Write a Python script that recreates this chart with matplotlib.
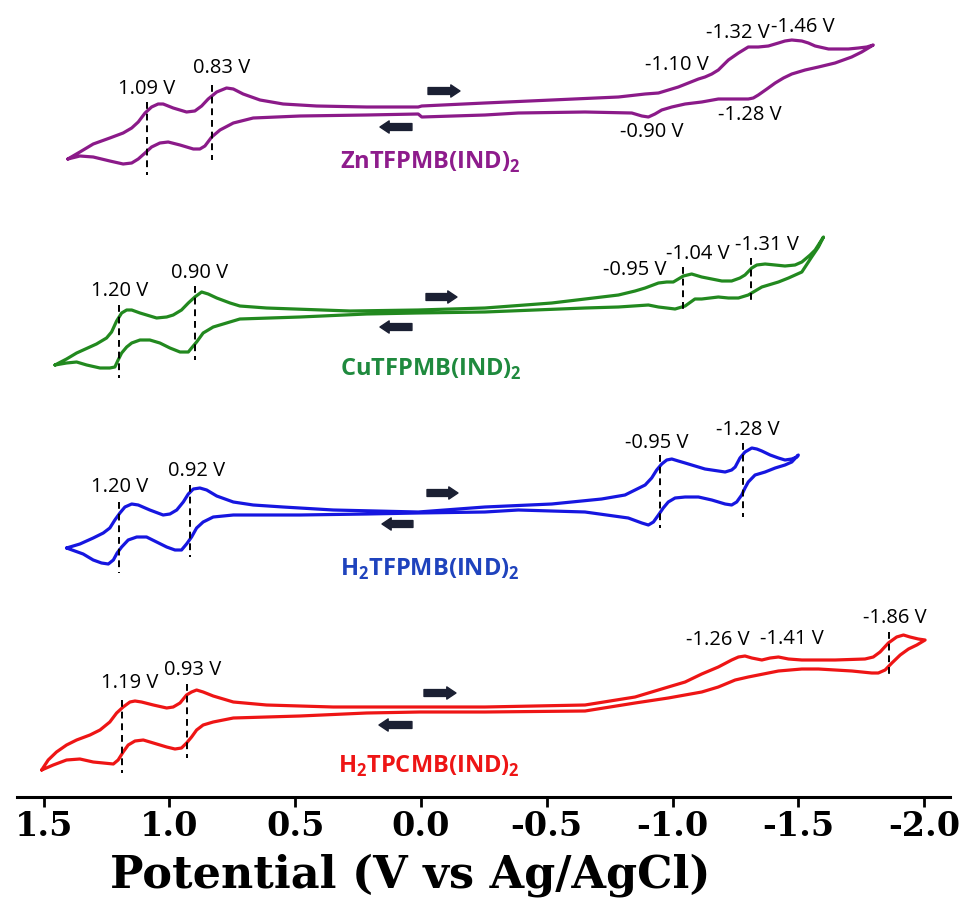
import matplotlib.pyplot as plt
import numpy as np

plt.rcParams['mathtext.fontset'] = 'custom'
plt.rcParams['mathtext.rm'] = 'Open Sans'
plt.rcParams['mathtext.bf'] = 'Open Sans:bold'

# ---- CV loops: (potential V vs Ag/AgCl, current in arb. units relative to the trace baseline)
zn_cv = [(1.404, -48), (1.356, -41), (1.303, -33), (1.237, -27), (1.184, -22), (1.150, -17),
         (1.124, -11), (1.097, -2), (1.071, 4), (1.045, 7), (1.025, 7), (0.985, 3), (0.932, -1),
         (0.899, 0), (0.872, 5), (0.846, 12), (0.812, 19), (0.773, 23), (0.746, 22), (0.707, 17),
         (0.640, 11), (0.548, 7), (0.415, 5), (0.216, 4), (0.011, 4), (-0.003, 5),
         (-0.254, 8), (-0.520, 11), (-0.785, 14), (-0.891, 17), (-0.944, 18), (-1.023, 24),
         (-1.063, 28), (-1.103, 32), (-1.129, 34), (-1.156, 37), (-1.182, 41), (-1.222, 51),
         (-1.262, 58), (-1.301, 64), (-1.341, 64), (-1.381, 65), (-1.421, 68), (-1.447, 70),
         (-1.474, 71), (-1.514, 70), (-1.540, 68), (-1.567, 65), (-1.620, 62), (-1.659, 62),
         (-1.699, 62), (-1.739, 63), (-1.772, 64), (-1.798, 66),
         (-1.752, 59), (-1.712, 54), (-1.646, 48), (-1.580, 44), (-1.527, 41), (-1.474, 37),
         (-1.441, 33), (-1.408, 28), (-1.375, 22), (-1.341, 16), (-1.321, 13), (-1.301, 12),
         (-1.249, 12), (-1.182, 12), (-1.116, 9), (-1.050, 7), (-0.997, 4), (-0.957, 1),
         (-0.930, -3), (-0.904, -6), (-0.878, -5), (-0.838, -2), (-0.652, -1), (-0.387, -2),
         (-0.254, -4), (-0.003, -6),
         (0.011, -3), (0.216, -4), (0.481, -5), (0.667, -7), (0.746, -12), (0.799, -19),
         (0.832, -26), (0.859, -35), (0.879, -38), (0.905, -38), (0.958, -34), (1.005, -31),
         (1.038, -32), (1.071, -36), (1.097, -42), (1.124, -48), (1.150, -52), (1.184, -53),
         (1.237, -50), (1.303, -46), (1.356, -45), (1.404, -48)]

cu_cv = [(1.455, -54), (1.409, -48), (1.369, -42), (1.290, -33), (1.250, -27), (1.230, -21),
         (1.210, -10), (1.190, -2), (1.170, 1), (1.150, 1), (1.117, -2), (1.051, -7), (1.011, -6),
         (0.985, -4), (0.952, 1), (0.925, 8), (0.899, 14), (0.872, 19), (0.846, 17), (0.812, 13),
         (0.759, 8), (0.720, 5), (0.614, 3), (0.282, 0), (0.011, 1),
         (-0.254, 3), (-0.520, 8), (-0.785, 16), (-0.851, 20), (-0.891, 23), (-0.944, 28),
         (-0.977, 29), (-1.003, 29), (-1.043, 35), (-1.076, 37), (-1.116, 34), (-1.156, 32),
         (-1.196, 30), (-1.235, 30), (-1.268, 33), (-1.288, 36), (-1.315, 43), (-1.335, 46),
         (-1.368, 47), (-1.408, 46), (-1.447, 45), (-1.487, 46), (-1.514, 49), (-1.547, 56),
         (-1.567, 61), (-1.600, 74),
         (-1.580, 64), (-1.553, 54), (-1.514, 39), (-1.461, 33), (-1.421, 29), (-1.355, 24),
         (-1.301, 16), (-1.262, 13), (-1.222, 13), (-1.182, 14), (-1.116, 12), (-1.089, 12),
         (-1.050, 5), (-1.010, 2), (-0.977, 3), (-0.944, 4), (-0.904, 6), (-0.785, 4),
         (-0.652, 3), (-0.254, -1),
         (0.017, -2), (0.216, -3), (0.481, -6), (0.720, -8), (0.773, -12), (0.826, -16),
         (0.866, -22), (0.892, -31), (0.912, -37), (0.925, -41), (0.958, -41), (0.998, -37),
         (1.038, -32), (1.078, -29), (1.117, -29), (1.150, -32), (1.170, -36), (1.190, -42),
         (1.204, -49), (1.217, -56), (1.237, -57), (1.276, -57), (1.329, -54), (1.369, -51),
         (1.409, -52), (1.455, -54)]

h2f_cv = [(1.409, -36), (1.356, -32), (1.303, -26), (1.263, -21), (1.237, -16), (1.217, -8),
          (1.197, -1), (1.177, 5), (1.150, 8), (1.124, 7), (1.078, 2), (1.025, -3), (0.998, -2),
          (0.971, 2), (0.945, 10), (0.925, 18), (0.905, 23), (0.879, 24), (0.852, 22), (0.812, 16),
          (0.746, 10), (0.667, 7), (0.548, 5), (0.349, 2), (0.011, 0),
          (-0.254, 5), (-0.520, 8), (-0.718, 13), (-0.811, 17), (-0.851, 22), (-0.891, 27),
          (-0.917, 34), (-0.937, 42), (-0.957, 48), (-0.977, 52), (-0.997, 53), (-1.023, 51),
          (-1.050, 49), (-1.129, 43), (-1.209, 40), (-1.235, 42), (-1.249, 45), (-1.268, 54),
          (-1.288, 60), (-1.315, 64), (-1.335, 63), (-1.355, 61), (-1.388, 57), (-1.421, 54),
          (-1.447, 52), (-1.474, 53), (-1.494, 55), (-1.500, 57),
          (-1.474, 50), (-1.447, 47), (-1.408, 44), (-1.368, 40), (-1.328, 37), (-1.301, 30),
          (-1.288, 24), (-1.275, 17), (-1.255, 10), (-1.235, 7), (-1.209, 8), (-1.156, 12),
          (-1.103, 15), (-1.050, 15), (-1.010, 14), (-0.983, 10), (-0.963, 4), (-0.944, -3),
          (-0.924, -10), (-0.904, -13), (-0.878, -11), (-0.824, -6), (-0.652, 0), (-0.387, 2),
          (-0.254, 0),
          (0.011, -1), (0.216, -2), (0.481, -3), (0.746, -3), (0.826, -5), (0.866, -10),
          (0.892, -16), (0.912, -25), (0.932, -32), (0.952, -38), (0.978, -38), (1.011, -35),
          (1.051, -30), (1.091, -25), (1.130, -25), (1.164, -28), (1.190, -35), (1.208, -41),
          (1.223, -48), (1.243, -52), (1.270, -51), (1.303, -48), (1.343, -42), (1.376, -39),
          (1.409, -36)]

h2c_cv = [(1.508, -61), (1.482, -51), (1.449, -43), (1.409, -36), (1.369, -31), (1.316, -26),
          (1.276, -21), (1.237, -13), (1.210, -4), (1.184, 2), (1.157, 7), (1.137, 8), (1.111, 7),
          (1.064, 4), (1.011, 1), (0.985, 2), (0.958, 6), (0.932, 14), (0.912, 17), (0.892, 19),
          (0.866, 17), (0.826, 13), (0.746, 7), (0.614, 4), (0.349, 2), (0.004, 2),
          (-0.254, 2), (-0.652, 4), (-0.851, 12), (-0.983, 22), (-1.050, 27), (-1.116, 35),
          (-1.182, 42), (-1.235, 49), (-1.262, 52), (-1.288, 53), (-1.315, 51), (-1.355, 49),
          (-1.388, 51), (-1.421, 52), (-1.461, 50), (-1.514, 49), (-1.646, 49), (-1.765, 50),
          (-1.798, 52), (-1.825, 57), (-1.858, 66), (-1.891, 72), (-1.918, 74), (-1.944, 72),
          (-1.977, 70), (-2.004, 69),
          (-1.971, 64), (-1.938, 60), (-1.905, 54), (-1.872, 46), (-1.845, 39), (-1.818, 36),
          (-1.792, 36), (-1.713, 38), (-1.580, 40), (-1.514, 40), (-1.421, 38), (-1.341, 34),
          (-1.301, 32), (-1.249, 29), (-1.182, 22), (-1.116, 17), (-0.983, 11), (-0.851, 6),
          (-0.652, -2), (-0.254, -3),
          (0.004, -3), (0.216, -4), (0.481, -7), (0.746, -9), (0.826, -13), (0.866, -16),
          (0.892, -21), (0.912, -28), (0.932, -34), (0.952, -39), (0.978, -40), (1.011, -38),
          (1.064, -34), (1.104, -31), (1.137, -32), (1.164, -36), (1.184, -43), (1.204, -51),
          (1.223, -55), (1.263, -54), (1.303, -53), (1.356, -50), (1.409, -51), (1.462, -56),
          (1.508, -61)]

names = [r'ZnTFPMB(IND)$_{\mathbf{2}}$', r'CuTFPMB(IND)$_{\mathbf{2}}$',
         r'H$_{\mathbf{2}}$TFPMB(IND)$_{\mathbf{2}}$', r'H$_{\mathbf{2}}$TPCMB(IND)$_{\mathbf{2}}$']
line_colors = ['#8b1a89', '#22891f', '#1616e0', '#ee1515']
text_colors = ['#8e1c8c', '#1f8a3e', '#1f43bd', '#ee1515']
offsets = [787, 587, 386, 189]

# peak labels: text, potential, current (rel. to baseline)
peaks = [
    [('1.09 V', 1.089, 22), ('0.83 V', 0.791, 43), ('-1.10 V', -1.018, 46), ('-1.32 V', -1.260, 78),
     ('-1.46 V', -1.519, 84), ('-1.28 V', -1.308, -4), ('-0.90 V', -0.918, -21)],
    [('1.20 V', 1.197, 20), ('0.90 V', 0.879, 38), ('-0.95 V', -0.851, 41), ('-1.04 V', -1.101, 57),
     ('-1.31 V', -1.376, 66)],
    [('1.20 V', 1.197, 25), ('0.92 V', 0.891, 41), ('-0.95 V', -0.938, 69), ('-1.28 V', -1.300, 82)],
    [('1.19 V', 1.157, 26), ('0.93 V', 0.907, 39), ('-1.26 V', -1.181, 69), ('-1.41 V', -1.475, 70),
     ('-1.86 V', -1.885, 91)],
]
# dashed markers: potential, top, bottom (rel. to baseline)
marks = [
    [(1.09, 9, -64), (0.83, 26, -49)],
    [(1.20, 6, -67), (0.90, 25, -49), (-1.04, 44, -1), (-1.31, 53, 8)],
    [(1.20, 10, -61), (0.92, 27, -45), (-0.95, 57, -16), (-1.28, 69, -5)],
    [(1.19, 9, -64), (0.93, 25, -49), (-1.86, 77, 33)],
]
fwd_arrow = [(-0.028, -0.155, 20), (-0.020, -0.143, 14), (-0.024, -0.147, 19), (-0.012, -0.139, 16)]
rev_arrow = [(0.036, 0.163, -16), (0.036, 0.163, -16), (0.032, 0.155, -12), (0.036, 0.167, -16)]
name_pos = [(0.322, -51), (0.322, -58), (0.322, -57), (0.330, -57)]

loops = [zn_cv, cu_cv, h2f_cv, h2c_cv]

fig = plt.figure(figsize=(9.71, 8.98), dpi=100)
ax = fig.add_axes([17 / 971, 101 / 898, 933 / 971, 797 / 898])

arrow_style = 'simple,head_length=0.6,head_width=0.8,tail_width=0.45'
for k in range(4):
    off = offsets[k]
    cv = np.array(loops[k], dtype=float)
    ax.plot(cv[:, 0], cv[:, 1] + off, color=line_colors[k], lw=2.3,
            solid_joinstyle='round', solid_capstyle='round')
    for e, top, bot in marks[k]:
        ax.plot([e, e], [top + off, bot + off], color='black', lw=1.4, dashes=(3.5, 2.5))
    for txt, e, i in peaks[k]:
        ax.text(e, i + off, txt, ha='center', va='center', fontsize=14.5,
                family='Open Sans', color='black')
    ax.annotate('', xy=(fwd_arrow[k][1], fwd_arrow[k][2] + off),
                xytext=(fwd_arrow[k][0], fwd_arrow[k][2] + off),
                arrowprops=dict(arrowstyle=arrow_style, fc='#1b2033', ec='#1b2033',
                                mutation_scale=11, shrinkA=0, shrinkB=0))
    ax.annotate('', xy=(rev_arrow[k][1], rev_arrow[k][2] + off),
                xytext=(rev_arrow[k][0], rev_arrow[k][2] + off),
                arrowprops=dict(arrowstyle=arrow_style, fc='#1b2033', ec='#1b2033',
                                mutation_scale=11, shrinkA=0, shrinkB=0))
    ax.text(name_pos[k][0], name_pos[k][1] + off, names[k], ha='left', va='center',
            fontsize=17, fontweight='bold', family='Open Sans', color=text_colors[k])

ax.set_xlim(1.606, -2.103)
ax.set_ylim(101, 898)
for s in ['top', 'left', 'right']:
    ax.spines[s].set_visible(False)
ax.spines['bottom'].set_linewidth(2.2)
ax.set_yticks([])
ax.set_xticks([1.5, 1.0, 0.5, 0.0, -0.5, -1.0, -1.5, -2.0])
ax.set_xticklabels(['1.5', '1.0', '0.5', '0.0', '-0.5', '-1.0', '-1.5', '-2.0'])
ax.tick_params(axis='x', direction='out', length=7.5, width=2, pad=2)
for lab in ax.get_xticklabels():
    lab.set_fontfamily('DejaVu Serif')
    lab.set_fontweight('bold')
    lab.set_fontsize(24)
ax.set_xlabel('Potential (V vs Ag/AgCl)', family='DejaVu Serif', fontweight='bold',
              fontsize=32)
ax.xaxis.set_label_coords(0.421, -0.071)

fig.savefig('out.png', dpi=100)
